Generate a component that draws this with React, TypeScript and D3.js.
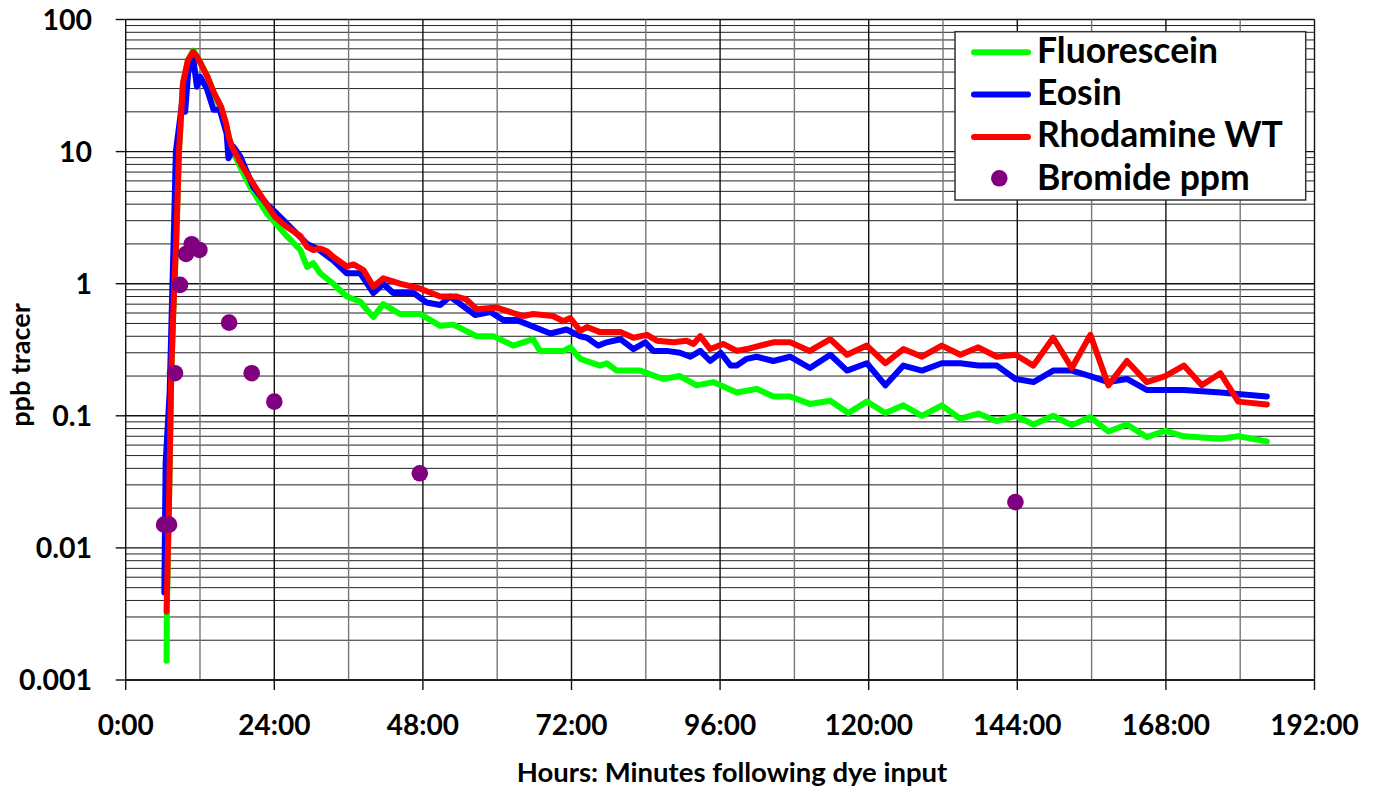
import React from "react";
import * as d3 from "d3";

// Tracer breakthrough curves (hours after dye input, concentration)
const fluoresceinHours = [6.6, 6.65, 7.0, 7.35, 7.65, 8.2, 8.6, 9.25, 10.05, 10.9, 11.6, 13.2, 14.3, 15.4, 16.2, 17.2, 18.6, 20.1, 22.8, 24.1, 26, 28.2, 29.3, 30.3, 31.4, 33.5, 35.7, 37.9, 39, 40, 41.6, 44.3, 47.5, 50.8, 52.9, 56.7, 59.4, 62.6, 65.8, 66.9, 70.7, 71.8, 73.4, 76.6, 77.7, 79.3, 83.1, 86.8, 89.5, 92.2, 94.9, 98.7, 101.9, 104.6, 107.3, 110.5, 113.8, 116.7, 119.7, 122.7, 125.6, 128.6, 131.8, 134.8, 137.7, 140.7, 143.7, 146.6, 149.8, 152.8, 155.8, 158.7, 161.7, 164.9, 167.9, 170.9, 176.8, 179.7, 184.3];
const fluoresceinPpb = [0.0014, 0.0035, 0.023, 0.2, 0.55, 2.4, 10, 33, 49, 58, 52, 37, 27, 21, 16, 10.3, 7.5, 5.4, 3.4, 2.9, 2.3, 1.8, 1.34, 1.43, 1.2, 1.0, 0.8, 0.73, 0.63, 0.56, 0.7, 0.59, 0.59, 0.48, 0.49, 0.4, 0.4, 0.34, 0.38, 0.31, 0.31, 0.33, 0.27, 0.24, 0.25, 0.22, 0.22, 0.19, 0.2, 0.17, 0.18, 0.15, 0.16, 0.14, 0.14, 0.123, 0.13, 0.105, 0.128, 0.105, 0.12, 0.1, 0.12, 0.095, 0.104, 0.091, 0.1, 0.086, 0.1, 0.085, 0.098, 0.076, 0.086, 0.069, 0.077, 0.07, 0.067, 0.07, 0.064];

const eosinHours = [6.24, 6.45, 7.1, 7.5, 7.9, 8.1, 8.8, 9.2, 9.6, 10.1, 10.9, 11.5, 12.0, 13.1, 14.2, 15.2, 16.3, 16.6, 17.4, 18.5, 20.6, 22.8, 24.4, 26.5, 29.3, 30.9, 33.5, 35.7, 37.9, 40, 41.6, 43.2, 46.5, 48.6, 50.8, 52.4, 56.4, 58.9, 61, 63.2, 68.6, 71.2, 73.4, 74.5, 76.3, 77.7, 79.9, 82, 83.9, 85.2, 87.4, 89.5, 91.2, 92.8, 94.4, 96.1, 97.7, 98.7, 100.3, 101.9, 104.6, 107.3, 110.5, 113.8, 116.5, 119.7, 122.7, 125.6, 128.6, 131.8, 134.8, 137.7, 140.7, 143.7, 146.6, 149.8, 152.8, 155.8, 158.7, 161.7, 164.9, 170.9, 176.8, 184.3];
const eosinPpb = [0.0046, 0.044, 0.15, 0.8, 4, 10, 18, 25, 20, 40, 51, 31, 37, 30, 20.7, 20.7, 13.7, 8.9, 10.9, 9.2, 5.4, 4.0, 3.4, 2.7, 2.0, 1.85, 1.5, 1.2, 1.2, 0.85, 1.0, 0.85, 0.85, 0.72, 0.69, 0.8, 0.58, 0.61, 0.53, 0.53, 0.42, 0.45, 0.4, 0.39, 0.34, 0.36, 0.38, 0.32, 0.36, 0.31, 0.31, 0.3, 0.28, 0.31, 0.26, 0.3, 0.24, 0.24, 0.27, 0.28, 0.26, 0.28, 0.23, 0.29, 0.22, 0.25, 0.17, 0.24, 0.22, 0.25, 0.25, 0.24, 0.24, 0.19, 0.18, 0.22, 0.22, 0.2, 0.18, 0.19, 0.157, 0.157, 0.15, 0.14];

const rhodamineHours = [6.6, 7.0, 7.35, 7.65, 8.2, 8.6, 9.25, 10.05, 10.9, 11.57, 13.2, 14.3, 15.4, 16.2, 16.7, 17.2, 18.6, 20.2, 22.3, 24.1, 26, 28.2, 29.3, 30.3, 31.4, 32.5, 33.5, 35.7, 36.8, 38.4, 40, 41.6, 44.3, 47.5, 50.8, 53.5, 55, 56.7, 59.9, 62.6, 64.2, 65.8, 69, 70.7, 71.8, 73.4, 74.5, 76.6, 79.9, 82, 84.2, 85.8, 88.5, 90.6, 91.7, 92.8, 94.4, 96.5, 98.7, 100.3, 104.6, 107.3, 110.5, 113.8, 116.5, 119.7, 122.7, 125.6, 128.6, 131.8, 134.8, 137.7, 140.7, 143.7, 146.6, 149.8, 152.8, 155.8, 158.7, 161.7, 164.9, 167.9, 170.9, 173.8, 176.8, 179.7, 184.3];
const rhodaminePpb = [0.0033, 0.023, 0.2, 0.55, 2.4, 10, 33, 49, 57, 52, 37, 27.6, 21.9, 16.4, 12.6, 10.8, 8.1, 6.1, 4.3, 3.2, 2.7, 2.3, 1.9, 1.8, 1.85, 1.76, 1.6, 1.35, 1.4, 1.27, 0.95, 1.1, 1.0, 0.92, 0.8, 0.8, 0.76, 0.64, 0.66, 0.6, 0.57, 0.59, 0.57, 0.52, 0.55, 0.44, 0.47, 0.43, 0.43, 0.39, 0.41, 0.37, 0.36, 0.37, 0.35, 0.4, 0.32, 0.35, 0.31, 0.32, 0.36, 0.36, 0.31, 0.38, 0.29, 0.34, 0.25, 0.32, 0.28, 0.34, 0.29, 0.33, 0.28, 0.29, 0.24, 0.39, 0.23, 0.41, 0.17, 0.26, 0.18, 0.2, 0.24, 0.17, 0.21, 0.128, 0.122];

const bromideHours = [6.2, 7.0, 7.96, 8.77, 9.74, 10.66, 11.9, 16.7, 20.35, 24.0, 47.5, 143.7];
const bromidePpm = [0.015, 0.015, 0.21, 0.98, 1.68, 1.99, 1.8, 0.507, 0.21, 0.128, 0.0367, 0.0222];

const xTickHours = [0, 24, 48, 72, 96, 120, 144, 168, 192];
const xTickLabels = ["0:00", "24:00", "48:00", "72:00", "96:00", "120:00", "144:00", "168:00", "192:00"];
const yTickValues = [0.001, 0.01, 0.1, 1, 10, 100];
const yTickLabels = ["0.001", "0.01", "0.1", "1", "10", "100"];

const seriesNames = ["Fluorescein", "Eosin", "Rhodamine WT", "Bromide ppm"];
const seriesColors = ["#00ff00", "#0000ff", "#ff0000", "#800080"];

const W = 1384;
const H = 789;
const FONT = "Lato, 'Liberation Sans', Arial, sans-serif";

const x = d3.scaleLinear().domain([0, 192]).range([125.7, 1314.5]);
const y = d3.scaleLog().domain([0.001, 100]).range([680, 19.5]);

const zip = (hs: number[], vs: number[]) => hs.map((h, i) => [h, vs[i]] as [number, number]);

const line = d3
  .line<[number, number]>()
  .x((d) => x(d[0]))
  .y((d) => y(d[1]));

export default function App() {
  const minorY: number[] = [];
  yTickValues.slice(0, -1).forEach((d) => {
    for (let k = 2; k <= 9; k++) minorY.push(d * k);
  });
  const gridHours = d3.range(12, 193, 12);

  const lines = [
    zip(fluoresceinHours, fluoresceinPpb),
    zip(eosinHours, eosinPpb),
    zip(rhodamineHours, rhodaminePpb),
  ];
  const bromide = zip(bromideHours, bromidePpm);

  const [x0, x1] = x.range();
  const [y0, y1] = y.range();

  return (
    <div style={{ position: "absolute", left: 0, top: 0 }}>
      <svg width={W} height={H} style={{ display: "block", background: "#fff" }} fontFamily={FONT}>
        {/* horizontal grid */}
        {minorY.map((v) => (
          <line key={"my" + v} x1={x0} x2={x1} y1={y(v)} y2={y(v)} stroke="#222" strokeWidth={1} />
        ))}
        {yTickValues.map((v) => (
          <line key={"My" + v} x1={x0} x2={x1} y1={y(v)} y2={y(v)} stroke="#111" strokeWidth={1.4} />
        ))}
        {/* vertical grid */}
        {gridHours.map((h) => (
          <line
            key={"vx" + h}
            x1={x(h)}
            x2={x(h)}
            y1={y1}
            y2={y0}
            stroke={h % 24 === 0 ? "#111" : "#777"}
            strokeWidth={1.4}
          />
        ))}
        {/* axes */}
        <line x1={x0} x2={x0} y1={y1} y2={y0} stroke="#111" strokeWidth={1.4} />
        <line x1={x0} x2={x1} y1={y0} y2={y0} stroke="#111" strokeWidth={1.4} />
        {yTickValues.map((v, i) => (
          <g key={"yt" + v}>
            <line x1={x0 - 10} x2={x0} y1={y(v)} y2={y(v)} stroke="#111" strokeWidth={1.4} />
            <text x={92} y={y(v)} dy="0.36em" textAnchor="end" fontSize={28.5} fontWeight="bold">
              {yTickLabels[i]}
            </text>
          </g>
        ))}
        {xTickHours.map((h, i) => (
          <g key={"xt" + h}>
            <line x1={x(h)} x2={x(h)} y1={y0} y2={y0 + 10} stroke="#111" strokeWidth={1.4} />
            <text x={x(h)} y={735} textAnchor="middle" fontSize={28} fontWeight="bold">
              {xTickLabels[i]}
            </text>
          </g>
        ))}
        <text x={732} y={782} textAnchor="middle" fontSize={27.5} fontWeight="bold">
          Hours: Minutes following dye input
        </text>
        <text transform="translate(30,365) rotate(-90)" textAnchor="middle" fontSize={27} fontWeight="bold">
          ppb tracer
        </text>
        {/* series */}
        {lines.map((pts, i) => (
          <path
            key={seriesNames[i]}
            d={line(pts) || ""}
            fill="none"
            stroke={seriesColors[i]}
            strokeWidth={6}
            strokeLinejoin="round"
            strokeLinecap="round"
          />
        ))}
        {bromide.map((d, i) => (
          <circle key={"br" + i} cx={x(d[0])} cy={y(d[1])} r={8.3} fill={seriesColors[3]} />
        ))}
        {/* legend */}
        <g>
          <rect x={955} y={31.7} width={350.7} height={168.3} fill="#fff" stroke="#333" strokeWidth={1.5} />
          {seriesNames.map((name, i) => {
            const cy = 52.3 + i * 42.3;
            return (
              <g key={"lg" + name}>
                {i < 3 ? (
                  <line x1={974} x2={1028} y1={cy} y2={cy} stroke={seriesColors[i]} strokeWidth={6} strokeLinecap="round" />
                ) : (
                  <circle cx={999.3} cy={178.3} r={8.3} fill={seriesColors[i]} />
                )}
                <text x={1037} y={cy + 10.5} fontSize={35.5} fontWeight="bold">
                  {name}
                </text>
              </g>
            );
          })}
        </g>
      </svg>
    </div>
  );
}
